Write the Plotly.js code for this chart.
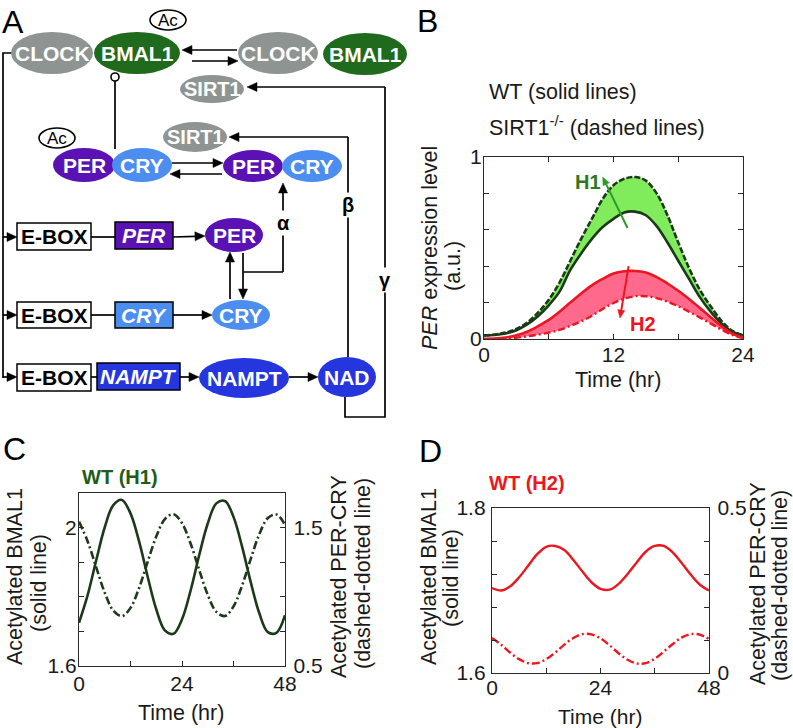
<!DOCTYPE html>
<html>
<head>
<meta charset="utf-8">
<script src="https://cdn.plot.ly/plotly-3.0.1.min.js"></script>
<style>html,body{margin:0;padding:0;background:#fff;}#chart{width:793px;height:728px;}</style>
</head>
<body>
<div id="chart"></div>
<script>
// ---------------- DATA ----------------
// Panel B: PER expression level over one day (a.u.)
const hoursB = [0,1,2,3,4,5,6,7,8,9,10,11,12,13,14,15,16,17,18,19,20,21,22,23,24];
const perWT_H1 = [0.02,0.022,0.03,0.048,0.08,0.125,0.185,0.26,0.38,0.47,0.55,0.615,0.66,0.695,0.70,0.68,0.62,0.53,0.43,0.33,0.23,0.15,0.085,0.04,0.02];
const perKO_H1 = [0.02,0.025,0.035,0.055,0.09,0.145,0.215,0.31,0.43,0.55,0.66,0.77,0.845,0.88,0.89,0.87,0.80,0.68,0.53,0.39,0.27,0.18,0.10,0.045,0.02];
const perWT_H2 = [0,0.002,0.008,0.02,0.04,0.07,0.105,0.15,0.20,0.25,0.295,0.33,0.36,0.372,0.374,0.365,0.34,0.305,0.265,0.22,0.17,0.12,0.07,0.03,0.008];
const perKO_H2 = [0,0,0.002,0.007,0.015,0.024,0.035,0.05,0.072,0.097,0.128,0.165,0.198,0.222,0.235,0.235,0.225,0.205,0.18,0.15,0.118,0.085,0.052,0.022,0.005];

// Panels C and D: acetylated BMAL1 (left axis) and PER-CRY (right axis)
const hoursCD = [0,2,4,6,8,10,12,14,16,18,20,22,24,26,28,30,32,34,36,38,40,42,44,46,48];
const acBmal1_H1 = [1.725,1.804,1.905,2.001,2.065,2.080,2.041,1.960,1.858,1.764,1.703,1.693,1.735,1.818,1.920,2.012,2.070,2.077,2.031,1.945,1.843,1.753,1.698,1.696,1.747];
const acPerCry_H1 = [1.543,1.402,1.214,1.030,0.900,0.860,0.920,1.064,1.253,1.435,1.561,1.597,1.532,1.385,1.195,1.014,0.891,0.861,0.930,1.081,1.272,1.451,1.569,1.595,1.520];
const acBmal1_H2 = [1.703,1.700,1.705,1.716,1.730,1.744,1.753,1.754,1.749,1.737,1.723,1.710,1.702,1.701,1.708,1.720,1.734,1.747,1.754,1.754,1.746,1.733,1.719,1.707,1.700];
const acPerCry_H2 = [0.106,0.086,0.062,0.042,0.030,0.030,0.042,0.062,0.086,0.106,0.118,0.117,0.105,0.084,0.060,0.040,0.029,0.030,0.043,0.065,0.088,0.108,0.118,0.116,0.103];

// Tick labels (labelled ticks) and unlabelled minor ticks
const tickValsB_x = [0,12,24], minorB_x = [6,18];
const tickValsB_y = [0,1], minorB_y = [0.2,0.4,0.6,0.8];
const tickValsCD_x = [0,24,48], minorCD_x = [12,36];
const tickValsC_l = [1.6,2.0], tickTextC_l = ['1.6','2'], minorC_l = [1.7,1.8,1.9];
const tickValsC_r = [0.5,1.5], minorC_r = [0.75,1,1.25];
const tickValsD_l = [1.6,1.8], minorD_l = [1.64,1.68,1.72,1.76];
const tickValsD_r = [0,0.5], minorD_r = [0.1,0.2,0.3,0.4];

// ---------------- STYLE ----------------
const W = 793, H = 728;
const FONT = '"Liberation Sans",Arial,Helvetica,sans-serif';
const GRAY = '#8e9491', DKGREEN = '#1f6a1c', PURPLE = '#5a12b4', LBLUE = '#4b8ef0', BLUE = '#2536df';
const LINEG = '#1c3a1a', FILLG = '#80ec5c', RED = '#ea1620', FILLR = '#ff6a8c';
const TXT = '#1a1a1a';

const px = v => v / W;          // pixel -> paper x
const py = v => 1 - v / H;      // pixel -> paper y

// plot-area boxes (pixels)
const boxB = {l: 484, r: 743, t: 157, b: 339};
const boxC = {l: 79, r: 285, t: 493, b: 666};
const boxD = {l: 492, r: 709, t: 508, b: 673};

const axBase = {
  showline: true, linecolor: '#2a2a2a', linewidth: 1.2,
  ticks: 'inside', ticklen: 5, tickwidth: 1, tickcolor: '#2a2a2a',
  showgrid: false, zeroline: false, fixedrange: true, ticklabelstandoff: -3,
  tickfont: {family: FONT, size: 21, color: TXT}
};
const minorOf = vals => ({tickmode: 'array', tickvals: vals, ticks: 'inside', ticklen: 5, tickwidth: 1, tickcolor: '#2a2a2a', showgrid: false});

// ---------------- TRACES ----------------
const traces = [
  // Panel B
  {x: hoursB, y: perWT_H1, xaxis: 'x', yaxis: 'y', mode: 'lines', line: {color: LINEG, width: 2.6, shape: 'spline'}},
  {x: hoursB, y: perKO_H1, xaxis: 'x', yaxis: 'y', mode: 'lines', fill: 'tonexty', fillcolor: FILLG,
   line: {color: LINEG, width: 2.6, dash: '6px,2px', shape: 'spline'}},
  {x: hoursB, y: perKO_H2, xaxis: 'x', yaxis: 'y', mode: 'lines', line: {color: RED, width: 2.4, dash: '7px,3px,2px,3px', shape: 'spline'}},
  {x: hoursB, y: perWT_H2, xaxis: 'x', yaxis: 'y', mode: 'lines', fill: 'tonexty', fillcolor: FILLR,
   line: {color: RED, width: 2.6, shape: 'spline'}},
  // Panel C
  {x: hoursCD, y: acBmal1_H1, xaxis: 'x2', yaxis: 'y2', mode: 'lines', line: {color: LINEG, width: 2.6, shape: 'spline'}},
  {x: hoursCD, y: acPerCry_H1, xaxis: 'x2', yaxis: 'y3', mode: 'lines', line: {color: LINEG, width: 2.6, dash: '8px,3px,2px,3px', shape: 'spline'}},
  // Panel D
  {x: hoursCD, y: acBmal1_H2, xaxis: 'x3', yaxis: 'y4', mode: 'lines', line: {color: RED, width: 2.4, shape: 'spline'}},
  {x: hoursCD, y: acPerCry_H2, xaxis: 'x3', yaxis: 'y5', mode: 'lines', line: {color: RED, width: 2.4, dash: '8px,3px,2px,3px', shape: 'spline'}}
];

// ---------------- DIAGRAM (panel A) ----------------
const diagramNodes = [
  {t: 'CLOCK', cx: 52, cy: 53, rx: 41, ry: 21, c: GRAY, s: 21},
  {t: 'BMAL1', cx: 137, cy: 53, rx: 43, ry: 21, c: DKGREEN, s: 21},
  {t: 'CLOCK', cx: 278, cy: 53, rx: 40, ry: 21, c: GRAY, s: 21},
  {t: 'BMAL1', cx: 365, cy: 54, rx: 42, ry: 21, c: DKGREEN, s: 21},
  {t: 'SIRT1', cx: 212, cy: 89, rx: 32, ry: 14, c: GRAY, s: 20},
  {t: 'SIRT1', cx: 195, cy: 137, rx: 32, ry: 15, c: GRAY, s: 20},
  {t: 'PER', cx: 84, cy: 165, rx: 31, ry: 17, c: PURPLE, s: 21},
  {t: 'CRY', cx: 142, cy: 165, rx: 30, ry: 17, c: LBLUE, s: 21},
  {t: 'PER', cx: 253, cy: 166, rx: 30, ry: 16, c: PURPLE, s: 21},
  {t: 'CRY', cx: 312, cy: 166, rx: 30, ry: 16, c: LBLUE, s: 21},
  {t: 'PER', cx: 234, cy: 235, rx: 29, ry: 17, c: PURPLE, s: 21},
  {t: 'CRY', cx: 241, cy: 315, rx: 29, ry: 15, c: LBLUE, s: 21},
  {t: 'NAMPT', cx: 244, cy: 378, rx: 45, ry: 20, c: BLUE, s: 21},
  {t: 'NAD', cx: 347, cy: 377, rx: 29, ry: 20, c: BLUE, s: 21}
];
const diagramBoxes = [
  {t: 'E-BOX', x0: 17, x1: 91, y0: 223, y1: 250, fill: '#fff', fc: '#000', it: false},
  {t: 'PER', x0: 115, x1: 173, y0: 222, y1: 249, fill: PURPLE, fc: '#fff', it: true},
  {t: 'E-BOX', x0: 17, x1: 91, y0: 302, y1: 328, fill: '#fff', fc: '#000', it: false},
  {t: 'CRY', x0: 115, x1: 173, y0: 302, y1: 328, fill: LBLUE, fc: '#fff', it: true},
  {t: 'E-BOX', x0: 17, x1: 91, y0: 364, y1: 391, fill: '#fff', fc: '#000', it: false},
  {t: 'NAMPT', x0: 97, x1: 180, y0: 363, y1: 390, fill: BLUE, fc: '#fff', it: true}
];
const diagramPaths = [
  'M12,53 L3,53 L3,378',
  'M91,237 L115,237', 'M91,315 L115,315', 'M91,377 L97,377',
  'M115,81 L115,149',
  'M243,272 L283,272',
  'M348,357 L348,137',
  'M345,397 L345,417 L385,417 L385,87'
];
const diagramArrows = [
  [3,237,17,237], [3,315,17,315], [3,377,17,377],
  [173,237,205,236], [173,315,212,315], [180,377,199,377], [289,377,318,377],
  [237,50,182,50], [192,61,238,61],
  [172,163,223,163], [222,174,170,174],
  [230,299,230,252], [243,253,243,299],
  [283,272,283,183],
  [348,137,229,137], [385,87,247,87]
];
const ac = [{cx: 168, cy: 20}, {cx: 57, cy: 138}];
const greek = [{t: 'α', x: 283, y: 223}, {t: 'β', x: 348, y: 205}, {t: 'γ', x: 385, y: 280}];

const shapes = [];
const annotations = [];
const dref = {xref: 'x4', yref: 'y6'};

// arrow = line + filled triangle head, built in pixel space then mapped by conv
function pushArrow(x0, y0, x1, y1, color, width, L, hw, ref, conv) {
  const dx = x1 - x0, dy = y1 - y0, len = Math.hypot(dx, dy);
  const ux = dx / len, uy = dy / len;
  const bx = x1 - L * ux, by = y1 - L * uy;
  const c1 = [bx - hw * uy, by + hw * ux], c2 = [bx + hw * uy, by - hw * ux];
  const P = (x, y) => { const q = conv(x, y); return q[0] + ',' + q[1]; };
  shapes.push({type: 'path', ...ref, path: 'M' + P(x0, y0) + ' L' + P(bx + ux, by + uy), line: {color: color, width: width}});
  shapes.push({type: 'path', ...ref, path: 'M' + P(x1, y1) + ' L' + P(c1[0], c1[1]) + ' L' + P(c2[0], c2[1]) + ' Z',
    fillcolor: color, line: {color: color, width: 0.5}});
}
const ident = (x, y) => [x, y];
const toPaper = (x, y) => [px(x), py(y)];

diagramPaths.forEach(p => shapes.push({type: 'path', path: p, ...dref, line: {color: '#000', width: 1.7}}));
diagramArrows.forEach(a => pushArrow(a[0], a[1], a[2], a[3], '#000', 1.7, 10, 4.5, dref, ident));
diagramBoxes.forEach(b => {
  shapes.push({type: 'rect', ...dref, x0: b.x0, x1: b.x1, y0: b.y0, y1: b.y1, fillcolor: b.fill, line: {color: '#000', width: 1.5}});
  const txt = b.it ? '<b><i>' + b.t + '</i></b>' : '<b>' + b.t + '</b>';
  annotations.push({...dref, x: (b.x0 + b.x1) / 2, y: (b.y0 + b.y1) / 2, text: txt, showarrow: false,
    xanchor: 'center', yanchor: 'middle', font: {family: FONT, size: 21, color: b.fc}});
});
diagramNodes.forEach(n => {
  shapes.push({type: 'circle', ...dref, x0: n.cx - n.rx, x1: n.cx + n.rx, y0: n.cy - n.ry, y1: n.cy + n.ry,
    fillcolor: n.c, line: {width: 0}});
  annotations.push({...dref, x: n.cx, y: n.cy, text: '<b>' + n.t + '</b>', showarrow: false,
    xanchor: 'center', yanchor: 'middle', font: {family: FONT, size: n.s, color: '#fff'}});
});
ac.forEach(a => {
  shapes.push({type: 'circle', ...dref, x0: a.cx - 18, x1: a.cx + 18, y0: a.cy - 10, y1: a.cy + 10,
    fillcolor: '#fff', line: {color: '#000', width: 1.6}});
  annotations.push({...dref, x: a.cx, y: a.cy, text: 'Ac', showarrow: false, xanchor: 'center', yanchor: 'middle',
    font: {family: FONT, size: 17, color: '#000'}});
});
shapes.push({type: 'circle', ...dref, x0: 111, x1: 119, y0: 73, y1: 81, fillcolor: '#fff', line: {color: '#000', width: 1.6}});
greek.forEach(g => annotations.push({...dref, x: g.x, y: g.y, text: '<b>' + g.t + '</b>', showarrow: false,
  bgcolor: '#fff', borderpad: 1, xanchor: 'center', yanchor: 'middle', font: {family: FONT, size: 20, color: '#000'}}));

// ---------------- PANEL TEXTS ----------------
const txtAnn = (x, y, text, size, color, extra) => annotations.push(Object.assign({
  xref: 'paper', yref: 'paper', x: px(x), y: py(y), text: text, showarrow: false,
  xanchor: 'center', yanchor: 'middle', font: {family: FONT, size: size, color: color}}, extra || {}));

[['A', 13, 22], ['B', 427, 21], ['C', 14, 449], ['D', 430, 451]].forEach(l => txtAnn(l[1], l[2], l[0], 32, '#000'));

txtAnn(487, 92, 'WT (solid lines)', 21.5, TXT, {xanchor: 'left'});
txtAnn(487, 126, 'SIRT1<sup>-/-</sup> (dashed lines)', 21.5, TXT, {xanchor: 'left'});

// axis titles
txtAnn(618, 380, 'Time (hr)', 21.5, TXT);
txtAnn(181, 713, 'Time (hr)', 21.5, TXT);
txtAnn(600, 716, 'Time (hr)', 21, TXT);
txtAnn(430, 248, '<i>PER</i> expression level', 21.5, TXT, {textangle: -90});
txtAnn(453, 266, '(a.u.)', 21.5, TXT, {textangle: -90});
txtAnn(15, 577, 'Acetylated BMAL1', 21.5, TXT, {textangle: -90});
txtAnn(39, 583, '(solid line)', 21.5, TXT, {textangle: -90});
txtAnn(339, 577, 'Acetylated PER-CRY', 21.5, TXT, {textangle: -90});
txtAnn(363, 574, '(dashed-dotted line)', 21.5, TXT, {textangle: -90});
txtAnn(429, 577, 'Acetylated BMAL1', 21.5, TXT, {textangle: -90});
txtAnn(451, 578, '(solid line)', 21.5, TXT, {textangle: -90});
txtAnn(758, 584, 'Acetylated PER-CRY', 21.5, TXT, {textangle: -90});
txtAnn(780, 586, '(dashed-dotted line)', 21.5, TXT, {textangle: -90});

// H1 / H2 markers in panel B (positions in data units of panel B)
const bPix = (t, v) => [boxB.l + t * (boxB.r - boxB.l) / 24, boxB.b - v * (boxB.b - boxB.t)];
const pref = {xref: 'paper', yref: 'paper'};
(function () {
  const a0 = bPix(13.3, 0.61), a1 = bPix(11.0, 0.89);
  pushArrow(a0[0], a0[1], a1[0], a1[1], '#2e9a2a', 2, 8, 3.5, pref, toPaper);
  const b0 = bPix(13.4, 0.40), b1 = bPix(12.6, 0.115);
  pushArrow(b0[0], b0[1], b1[0], b1[1], RED, 2, 8, 3.5, pref, toPaper);
})();
annotations.push({xref: 'x', yref: 'y', x: 9.6, y: 0.865, text: '<b>H1</b>', showarrow: false, xanchor: 'center', yanchor: 'middle',
  font: {family: FONT, size: 20, color: '#2a7a1f'}});
annotations.push({xref: 'x', yref: 'y', x: 14.7, y: 0.085, text: '<b>H2</b>', showarrow: false, xanchor: 'center', yanchor: 'middle',
  font: {family: FONT, size: 20, color: RED}});

txtAnn(120, 477, '<b>WT (H1)</b>', 20, '#1f5c17');
txtAnn(527, 483, '<b>WT (H2)</b>', 20, RED);

// ---------------- LAYOUT ----------------
const rStand = {ticklabelstandoff: 3};
const layout = {
  width: W, height: H,
  margin: {l: 0, r: 0, t: 0, b: 0, pad: 0},
  paper_bgcolor: '#fff', plot_bgcolor: 'rgba(0,0,0,0)',
  showlegend: false,
  font: {family: FONT, color: TXT},
  // Panel B
  xaxis: {...axBase, domain: [px(boxB.l), px(boxB.r)], anchor: 'y', range: [0, 24], tickmode: 'array', tickvals: tickValsB_x,
    minor: minorOf(minorB_x), mirror: 'ticks'},
  yaxis: {...axBase, domain: [py(boxB.b), py(boxB.t)], anchor: 'x', range: [0, 1], tickmode: 'array', tickvals: tickValsB_y,
    minor: minorOf(minorB_y), mirror: 'ticks'},
  // Panel C
  xaxis2: {...axBase, ticklabelstandoff: -1, domain: [px(boxC.l), px(boxC.r)], anchor: 'y2', range: [0, 48], tickmode: 'array', tickvals: tickValsCD_x,
    minor: minorOf(minorCD_x), mirror: true},
  yaxis2: {...axBase, domain: [py(boxC.b), py(boxC.t)], anchor: 'x2', range: [1.6, 2.1], tickmode: 'array', tickvals: tickValsC_l,
    ticktext: tickTextC_l, minor: minorOf(minorC_l), mirror: true},
  yaxis3: {...axBase, ...rStand, overlaying: 'y2', side: 'right', anchor: 'x2', range: [0.5, 1.75], tickmode: 'array', tickvals: tickValsC_r,
    minor: minorOf(minorC_r)},
  // Panel D
  xaxis3: {...axBase, ticklabelstandoff: -4, domain: [px(boxD.l), px(boxD.r)], anchor: 'y4', range: [0, 48], tickmode: 'array', tickvals: tickValsCD_x,
    minor: minorOf(minorCD_x), mirror: true},
  yaxis4: {...axBase, ticklabelstandoff: 1, domain: [py(boxD.b), py(boxD.t)], anchor: 'x3', range: [1.6, 1.8], tickmode: 'array', tickvals: tickValsD_l,
    minor: minorOf(minorD_l), mirror: true},
  yaxis5: {...axBase, ...rStand, overlaying: 'y4', side: 'right', anchor: 'x3', range: [0, 0.5], tickmode: 'array', tickvals: tickValsD_r,
    minor: minorOf(minorD_r)},
  // Diagram canvas (panel A)
  xaxis4: {domain: [0, px(420)], anchor: 'y6', range: [0, 420], visible: false, fixedrange: true},
  yaxis6: {domain: [py(420), 1], anchor: 'x4', range: [420, 0], visible: false, fixedrange: true},
  shapes: shapes,
  annotations: annotations
};

Plotly.newPlot('chart', traces, layout, {displayModeBar: false, staticPlot: true});
</script>
</body>
</html>
